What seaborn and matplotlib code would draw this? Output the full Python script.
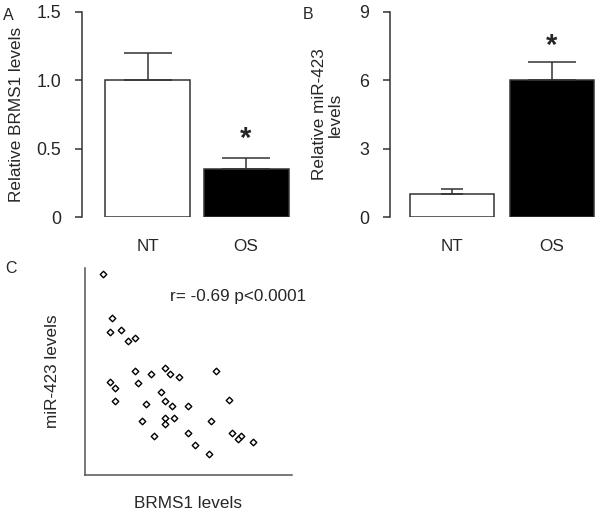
import matplotlib
matplotlib.use("Agg")
import matplotlib.pyplot as plt
import seaborn as sns
import pandas as pd

sns.set_theme(style="white")
plt.rcParams['font.family'] = ['Liberation Sans', 'DejaVu Sans']

groups = ["NT", "OS"]
brms1_mean = [1.0, 0.35]
brms1_err = [0.2, 0.08]
mir_mean = [1.0, 6.0]
mir_err = [0.23, 0.8]

brms1_x = [8.7, 13.2, 12.0, 17.6, 20.8, 24.2, 24.2, 32.1, 38.6, 41.0, 45.6, 63.3,
           12.0, 14.4, 14.4, 25.4, 36.7, 29.7, 38.6, 42.2, 49.9, 69.8, 27.6, 38.6,
           38.6, 43.1, 60.9, 33.1, 49.9, 53.3, 59.8, 70.9, 75.3, 74.0, 81.1]
mir_y = [97.3, 76.0, 68.9, 70.2, 64.5, 66.0, 50.2, 48.7, 51.8, 48.7, 47.4, 50.2,
         44.7, 41.8, 35.8, 44.5, 40.2, 34.5, 35.8, 33.1, 33.2, 36.0, 26.0, 27.7,
         24.7, 27.6, 26.0, 18.9, 20.3, 14.7, 10.3, 20.3, 19.0, 17.4, 16.0]

W, H = 600, 513
fig = plt.figure(figsize=(6, 5.13), dpi=100)

def fx(px):
    return px / W

def fy(px):
    return 1 - px / H

spine_col = "#333333"
fs = 12.3

def style_bar_ax(ax, ymax, ticks, ticklabels):
    for s in ["top", "right", "bottom"]:
        ax.spines[s].set_visible(False)
    ax.spines["left"].set_color(spine_col)
    ax.spines["left"].set_linewidth(1.1)
    ax.set_ylim(0, ymax)
    ax.set_yticks(ticks)
    ax.set_yticklabels(ticklabels, fontsize=12.8)
    ax.tick_params(axis="y", direction="out", length=5, width=1.1, color=spine_col, left=True, pad=10)
    ax.tick_params(axis="x", length=0, pad=16, labelsize=fs)
    ax.set_xlabel("")

# Panel A
axA = fig.add_axes([fx(82), fy(217), fx(300 - 82), (217 - 12) / H])
dfA = pd.DataFrame({"group": groups, "value": brms1_mean})
sns.barplot(data=dfA, x="group", y="value", ax=axA, palette=["white", "black"],
            hue="group", legend=False, edgecolor=spine_col, linewidth=1.1, width=0.863)
axA.errorbar([0], [brms1_mean[0]], yerr=[[0], [brms1_err[0]]], fmt="none",
             ecolor=spine_col, elinewidth=1.1, capsize=17, capthick=1.1)
axA.errorbar([1], [brms1_mean[1]], yerr=[[0], [brms1_err[1]]], fmt="none",
             ecolor=spine_col, elinewidth=1.1, capsize=17, capthick=1.1)
axA.set_xlim(-0.665, 1.548)
style_bar_ax(axA, 1.5, [0, 0.5, 1.0, 1.5], ["0", "0.5", "1.0", "1.5"])
axA.set_ylabel("Relative BRMS1 levels", fontsize=fs, labelpad=9)
axA.text(1, 0.47, "*", ha="center", va="bottom", fontsize=21, fontweight="bold")

# Panel B
axB = fig.add_axes([fx(390), fy(217), fx(598 - 390), (217 - 12) / H])
dfB = pd.DataFrame({"group": groups, "value": mir_mean})
sns.barplot(data=dfB, x="group", y="value", ax=axB, palette=["white", "black"],
            hue="group", legend=False, edgecolor=spine_col, linewidth=1.1, width=0.84)
axB.errorbar([0], [mir_mean[0]], yerr=[[0], [mir_err[0]]], fmt="none",
             ecolor=spine_col, elinewidth=1.1, capsize=8, capthick=1.1)
axB.errorbar([1], [mir_mean[1]], yerr=[[0], [mir_err[1]]], fmt="none",
             ecolor=spine_col, elinewidth=1.1, capsize=17, capthick=1.1)
axB.set_xlim(-0.62, 1.46)
style_bar_ax(axB, 9, [0, 3, 6, 9], ["0", "3", "6", "9"])
axB.set_ylabel("Relative miR-423\nlevels", fontsize=fs, labelpad=12, linespacing=1.0)
axB.text(1, 6.9, "*", ha="center", va="bottom", fontsize=21, fontweight="bold")

# Panel C
axC = fig.add_axes([fx(85), fy(475), fx(292 - 85), (475 - 268) / H])
dfC = pd.DataFrame({"BRMS1": brms1_x, "miR": mir_y})
sns.scatterplot(data=dfC, x="BRMS1", y="miR", ax=axC, marker="D", s=11,
                facecolor="white", edgecolor="black", linewidth=1.0)
axC.set_xlim(0, 100)
axC.set_ylim(0, 100)
for s in ["top", "right"]:
    axC.spines[s].set_visible(False)
for s in ["left", "bottom"]:
    axC.spines[s].set_color("#555555")
    axC.spines[s].set_linewidth(1.1)
axC.set_xticks([])
axC.set_yticks([])
axC.set_xlabel("BRMS1 levels", fontsize=fs, labelpad=15)
axC.set_ylabel("miR-423 levels", fontsize=fs, labelpad=18)
axC.text(41, 86, "r= -0.69 p<0.0001", fontsize=fs, va="center", ha="left")

# Panel letters
fig.text(fx(3), fy(20), "A", fontsize=11.5)
fig.text(fx(303), fy(19), "B", fontsize=11.5)
fig.text(fx(5), fy(273), "C", fontsize=11.5)

fig.savefig("out.png", dpi=100)
